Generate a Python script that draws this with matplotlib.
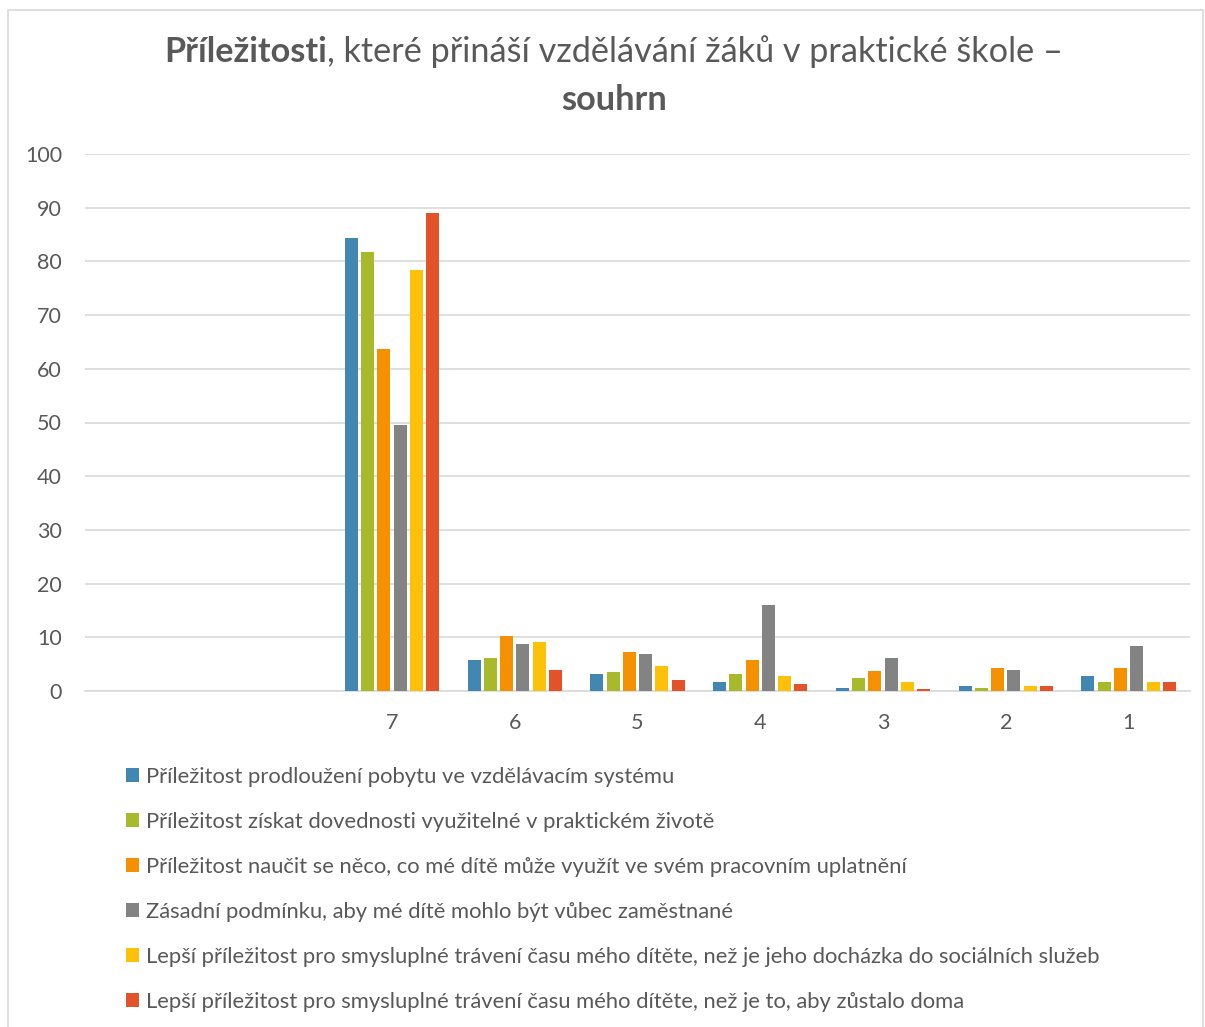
import matplotlib.pyplot as plt
import numpy as np
from matplotlib.patches import Rectangle

plt.rcParams['font.family'] = ['Lato', 'DejaVu Sans']

categories = ["", "", "7", "6", "5", "4", "3", "2", "1"]

series_names = [
    "Příležitost prodloužení pobytu ve vzdělávacím systému",
    "Příležitost získat dovednosti využitelné v praktickém životě",
    "Příležitost naučit se něco, co mé dítě může využít ve svém pracovním uplatnění",
    "Zásadní podmínku, aby mé dítě mohlo být vůbec zaměstnané",
    "Lepší příležitost pro smysluplné trávení času mého dítěte, než je jeho docházka do sociálních služeb",
    "Lepší příležitost pro smysluplné trávení času mého dítěte, než je to, aby zůstalo doma",
]

# values for categories 7..1 (first two categories are empty)
prodlouzeni = [84.3, 5.8, 3.1, 1.6, 0.5, 0.9, 2.8]
dovednosti = [81.8, 6.1, 3.6, 3.1, 2.4, 0.5, 1.6]
uplatneni = [63.7, 10.2, 7.2, 5.8, 3.8, 4.3, 4.3]
podminka = [49.5, 8.8, 6.9, 16.1, 6.1, 3.9, 8.3]
socialni_sluzby = [78.4, 9.1, 4.7, 2.8, 1.6, 0.9, 1.6]
doma = [89.0, 3.9, 2.1, 1.3, 0.3, 0.9, 1.6]

colors = ["#4287b2", "#a9b92c", "#f59100", "#838383", "#fec10a", "#e2532a"]

all_series = [prodlouzeni, dovednosti, uplatneni, podminka, socialni_sluzby, doma]

fig = plt.figure(figsize=(12.05, 10.27), dpi=100)
ax = fig.add_axes([85 / 1205, 1 - 691 / 1027, 1105 / 1205, 537 / 1027])

x = np.arange(len(categories))
w = 0.1325
for i, (vals, name, c) in enumerate(zip(all_series, series_names, colors)):
    xs = x[2:] + (i - 2.5) * w
    ax.bar(xs, vals, width=w * 0.8, color=c, linewidth=0, label=name, zorder=3)

ax.set_xlim(-0.5, len(categories) - 0.5)
ax.set_ylim(0, 100)
ax.set_yticks(np.arange(0, 101, 10))
ax.set_xticks(x)
ax.set_xticklabels(categories)
ax.grid(axis="y", color="#d9d9d9", linewidth=1.2, zorder=0)
for s in ["top", "right", "left"]:
    ax.spines[s].set_visible(False)
ax.spines["bottom"].set_color("#d9d9d9")
ax.spines["bottom"].set_linewidth(1.2)
ax.tick_params(axis="both", length=0, labelsize=15.5, colors="#595959")
ax.tick_params(axis="y", pad=16.5)
ax.tick_params(axis="x", pad=16)

# title with mixed bold / regular text
fig.canvas.draw()
r = fig.canvas.get_renderer()
tc = "#595959"
ts = 24.7
t1 = fig.text(0, 0, "Příležitosti", fontsize=ts, fontweight="bold", color=tc)
t2 = fig.text(0, 0, ", které přináší vzdělávání žáků v praktické škole –", fontsize=ts, color=tc)
w1 = t1.get_window_extent(r).width
w2 = t2.get_window_extent(r).width
cx = 614
y1 = 1 - 52 / 1027
start = cx - (w1 + w2) / 2
t1.set_position((start / 1205, y1))
t2.set_position(((start + w1) / 1205, y1))
t1.set_va("center")
t2.set_va("center")
fig.text(cx / 1205, 1 - 100 / 1027, "souhrn", fontsize=ts, fontweight="bold",
         color=tc, ha="center", va="center")

leg = fig.legend(loc="upper left", bbox_to_anchor=(117 / 1205, 1 - 758 / 1027),
                 frameon=False, fontsize=15.8, labelcolor="#595959",
                 handlelength=0.6, handleheight=0.6, handletextpad=0.3,
                 labelspacing=1.14, borderaxespad=0)

# chart border
fig.patches.append(Rectangle((8 / 1205, -0.01), 1195 / 1205, 1 - 10 / 1027 + 0.01,
                             transform=fig.transFigure, fill=False,
                             edgecolor="#d9d9d9", linewidth=1.2))

fig.savefig("out.png", dpi=100)
